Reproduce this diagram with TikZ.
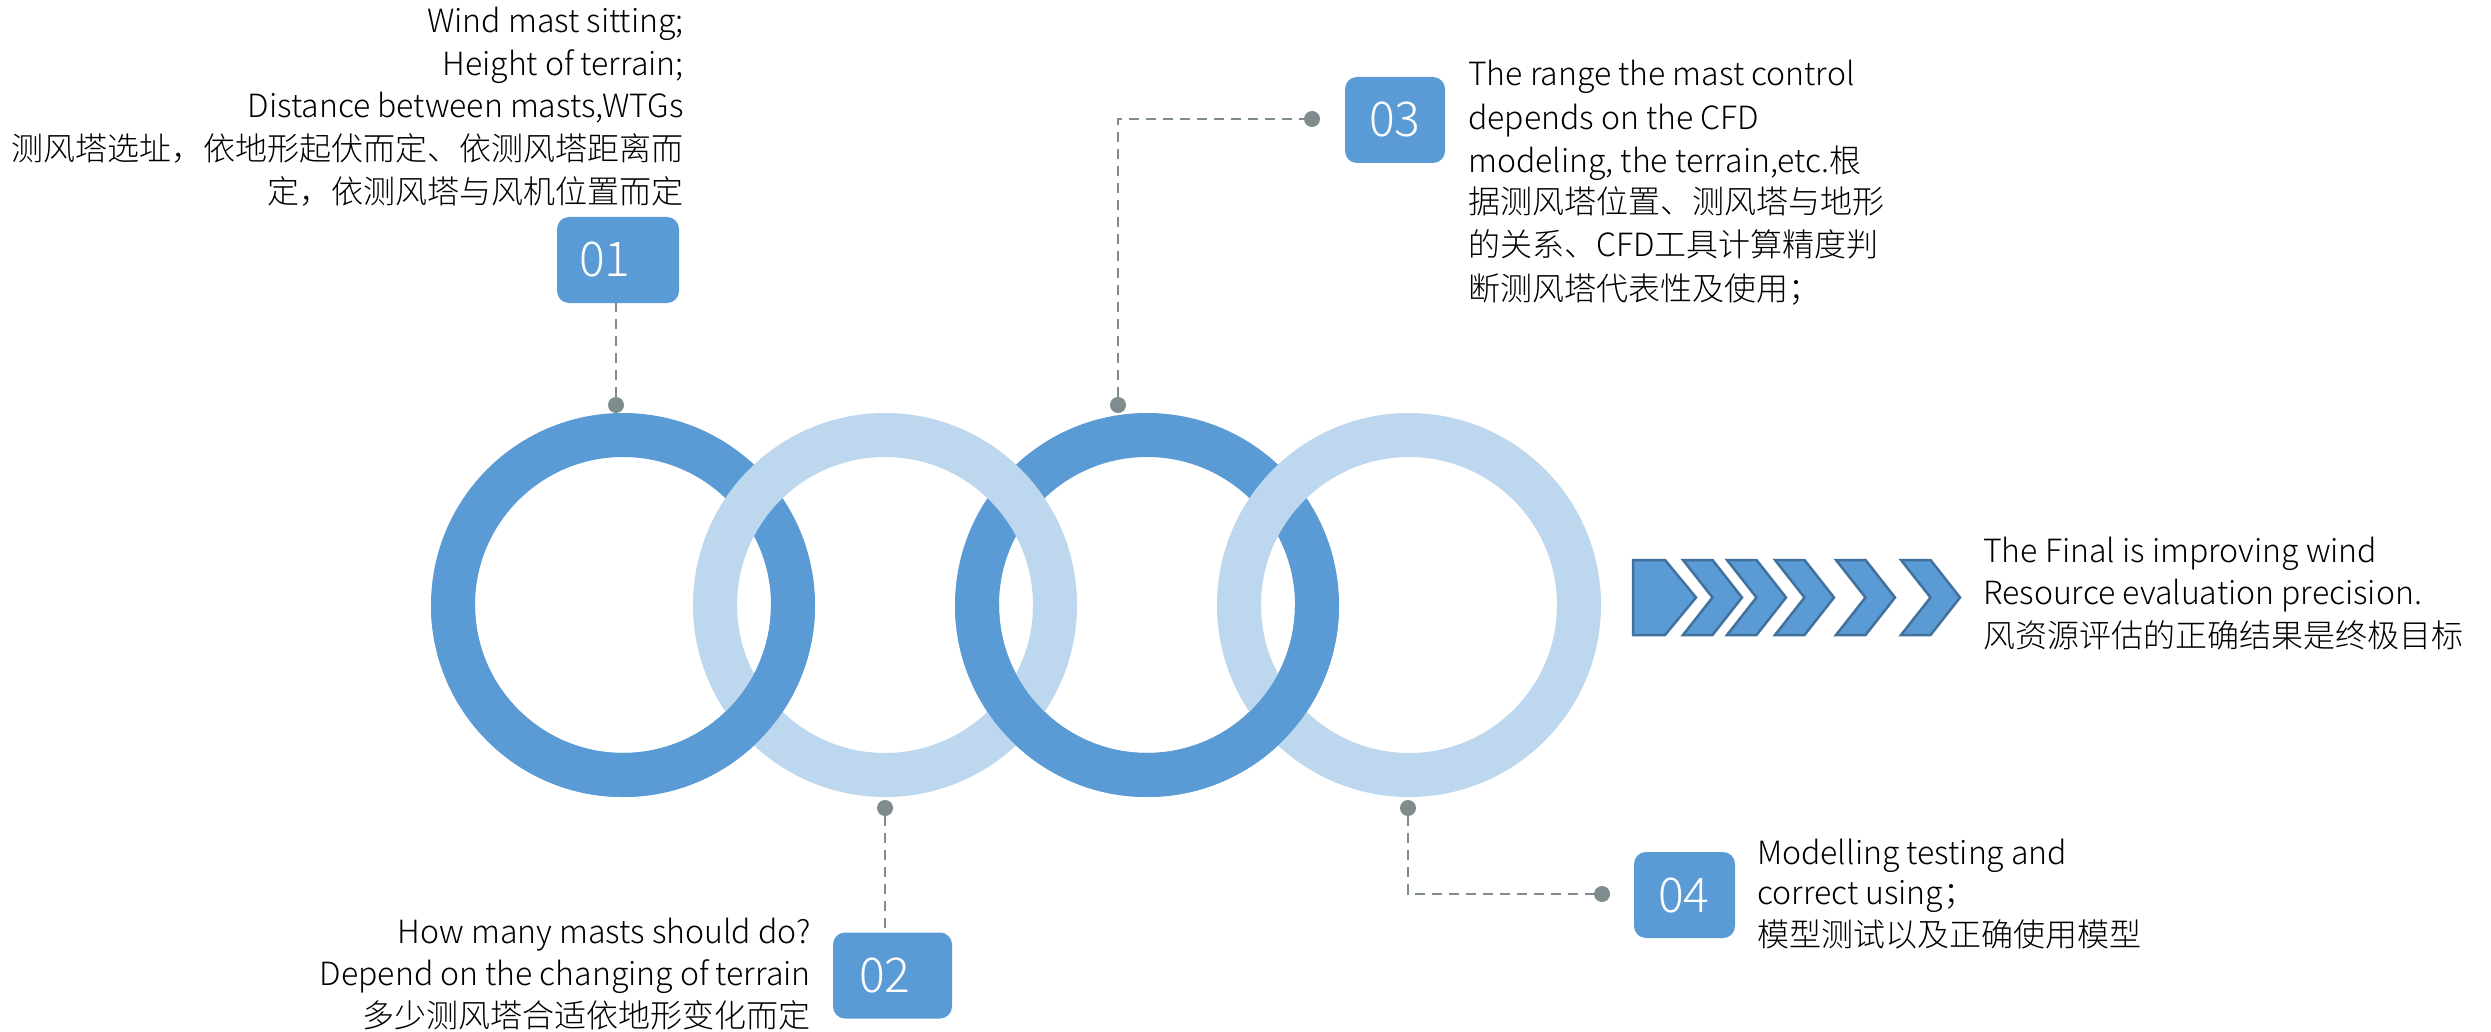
\documentclass[tikz,border=0pt]{standalone}
\usepackage{fontspec}
\IfFontExistsTF{Noto Sans CJK SC Light}{\setmainfont{Noto Sans CJK SC Light}}{\setmainfont{Noto Sans CJK SC}}
\usetikzlibrary{calc}
\definecolor{ringdark}{HTML}{5B9BD5}
\definecolor{ringlight}{HTML}{BDD7EE}
\definecolor{chevline}{HTML}{41719C}
\definecolor{dotgray}{RGB}{127,140,141}
\tikzset{
  darkring/.style={draw=ringdark, line width=44pt},
  lightring/.style={draw=ringlight, line width=44pt},
  numbox/.style={fill=ringdark, rounded corners=12pt, text=white, font=\fontsize{48}{48}\selectfont, minimum height=86pt, align=left, inner ysep=0pt},
  dotnode/.style={circle, fill=dotgray, minimum size=16pt, inner sep=0pt},
  dashline/.style={draw=dotgray, line width=2.5pt, dash pattern=on 10pt off 7pt},
  txt/.style={font=\fontsize{32}{43}\selectfont, inner sep=0pt, text=black},
  chev/.style={fill=ringdark, draw=chevline, line width=2.5pt, line join=miter},
}
\begin{document}
\begin{tikzpicture}[x=1pt,y=-1pt]
\fill[white] (0,0) rectangle (2491,1032);
\useasboundingbox (0,0) rectangle (2491,1032);

% ring centres
\coordinate (c1) at (623,605);
\coordinate (c2) at (885,605);
\coordinate (c3) at (1147,605);
\coordinate (c4) at (1409,605);

% rings (interlocked)
\draw[darkring] (c1) circle[radius=170pt];
\draw[darkring] (c3) circle[radius=170pt];
\draw[lightring] (c2) circle[radius=170pt];
\draw[lightring] (c4) circle[radius=170pt];
\draw[darkring] (c1) ++(180:170pt) arc[start angle=180,end angle=360,radius=170pt];
\draw[darkring] (c3) ++(180:170pt) arc[start angle=180,end angle=360,radius=170pt];

% number boxes
\node[numbox, minimum width=122pt, text width=78pt, inner xsep=22pt] (box01) at (618,260) {01};
\node[numbox, minimum width=119pt, text width=67pt, inner xsep=26pt] (box02) at (892.5,975.5) {02};
\node[numbox, minimum width=100pt, text width=52pt, inner xsep=24pt] (box03) at (1395,120) {03};
\node[numbox, minimum width=101pt, text width=53pt, inner xsep=24pt] (box04) at (1684.5,895) {04};

% dots
\node[dotnode] (dot1) at (616,405) {};
\node[dotnode] (dot2) at (885,808) {};
\node[dotnode] (dot3) at (1118,405) {};
\node[dotnode] (dot3b) at (1312,119) {};
\node[dotnode] (dot4) at (1408,808) {};
\node[dotnode] (dot4b) at (1602,894) {};

% connectors
\draw[dashline] (dot1.north) -- (dot1 |- box01.south);
\draw[dashline] (dot2.south) -- (dot2 |- box02.north);
\draw[dashline] (dot3.north) |- (dot3b.west);
\draw[dashline] (dot4.south) |- (dot4b.west);

% chevrons
\draw[chev] (1633,560) -- (1665,560) -- (1696,597.5) -- (1665,635) -- (1633,635) -- cycle;
\foreach \a in {1683,1727,1775,1836,1901}{
  \draw[chev] (\a,560) -- ({\a+29.5},560) -- ({\a+59},597.5) -- ({\a+29.5},635) -- (\a,635) -- ({\a+29.5},597.5) -- cycle;
}

% text block 01
\node[txt, anchor=base east] (t1a) at (684,33) {Wind mast sitting;};
\node[txt, anchor=base east] (t1b) at (684,76) {Height of terrain;};
\node[txt, anchor=base east] (t1c) at (684,118) {Distance between masts,WTGs};
\node[txt, anchor=base east] (t1d) at (684,161) {测风塔选址，依地形起伏而定、依测风塔距离而};
\node[txt, anchor=base east] (t1e) at (684,204) {定，依测风塔与风机位置而定};

% text block 02
\node[txt, anchor=base east] (t2a) at (811,943) {How many masts should do?};
\node[txt, anchor=base east] (t2b) at (811,985) {Depend on the changing of terrain};
\node[txt, anchor=base east] (t2c) at (811,1027) {多少测风塔合适依地形变化而定};

% text block 03
\node[txt, anchor=base west] (t3a) at (1468,86) {The range the mast control};
\node[txt, anchor=base west] (t3b) at (1468,130) {depends on the CFD};
\node[txt, anchor=base west] (t3c) at (1468,173) {modeling, the terrain,etc.根};
\node[txt, anchor=base west] (t3d) at (1468,214) {据测风塔位置、测风塔与地形};
\node[txt, anchor=base west] (t3e) at (1468,257) {的关系、CFD工具计算精度判};
\node[txt, anchor=base west] (t3f) at (1468,300) {断测风塔代表性及使用；};

% text block 04
\node[txt, anchor=base west] (t4a) at (1757,864) {Modelling testing and};
\node[txt, anchor=base west] (t4b) at (1757,904) {correct using；};
\node[txt, anchor=base west] (t4c) at (1757,946) {模型测试以及正确使用模型};

% final text
\node[txt, anchor=base west] (t5a) at (1983,562) {The Final is improving wind};
\node[txt, anchor=base west] (t5b) at (1983,604) {Resource evaluation precision.};
\node[txt, anchor=base west] (t5c) at (1983,647) {风资源评估的正确结果是终极目标};
\end{tikzpicture}
\end{document}
